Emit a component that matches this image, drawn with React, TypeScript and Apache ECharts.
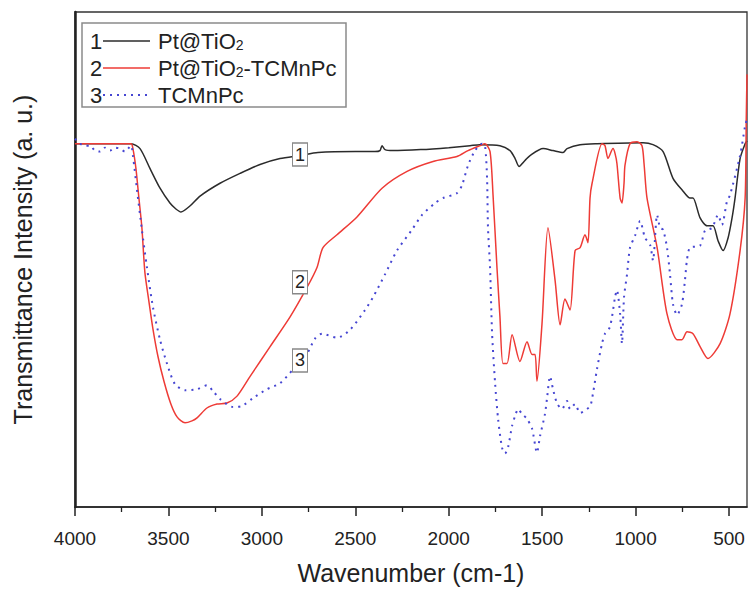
import React, { useEffect, useRef } from "react";
import * as echarts from "echarts";

// ---- data (wavenumber cm-1, transmittance a.u.) ----
const ptTiO2Wn = [4000, 3800, 3700, 3652, 3599, 3545, 3492, 3460, 3433, 3385, 3331, 3224, 3117, 3010, 2903, 2796, 2700, 2500, 2395, 2368, 2357, 2341, 2300, 2150, 2000, 1886, 1833, 1726, 1672, 1645, 1624, 1592, 1565, 1495, 1442, 1388, 1367, 1297, 1207, 960, 907, 853, 800, 746, 709, 693, 655, 618, 586, 559, 532, 505, 484, 468, 441, 414, 404];
const ptTiO2T = [73.4, 73.4, 73.4, 72.4, 68.4, 64.4, 61.4, 60.2, 59.6, 60.8, 62.8, 65.4, 67.4, 69.2, 70.4, 71, 71.6, 71.8, 71.8, 72, 73, 72.2, 72, 72.2, 72.6, 73, 73.2, 73, 72, 70.4, 68.8, 70, 71, 72.4, 72, 71.6, 72.4, 73.2, 73.4, 73.6, 73.2, 71.8, 66.4, 63.8, 62.4, 62.4, 58.4, 56.8, 56.8, 53.8, 51.8, 54.4, 58.4, 62.4, 70.4, 73.4, 74];

const ptTiO2McWn = [4000, 3700, 3690, 3674, 3658, 3642, 3626, 3604, 3583, 3556, 3524, 3487, 3454, 3411, 3374, 3347, 3294, 3240, 3187, 3133, 3063, 2956, 2849, 2758, 2705, 2673, 2598, 2491, 2357, 2223, 2084, 1956, 1897, 1833, 1806, 1779, 1763, 1742, 1726, 1710, 1688, 1661, 1619, 1581, 1554, 1538, 1528, 1501, 1469, 1431, 1404, 1378, 1351, 1324, 1297, 1271, 1255, 1244, 1233, 1180, 1164, 1148, 1121, 1110, 1100, 1083, 1073, 1062, 1057, 1030, 992, 966, 955, 939, 885, 832, 778, 752, 725, 693, 655, 613, 548, 495, 441, 414, 408, 404];
const ptTiO2McT = [73.4, 73.4, 72.4, 68.4, 62.4, 56.4, 47.4, 41.4, 36, 30.4, 25.4, 20.8, 18.2, 17, 17.4, 18, 20, 20.8, 21, 22.4, 26.4, 32.4, 38.4, 44.4, 48.4, 52.4, 55, 58.6, 64.4, 67.8, 69.8, 70.8, 72, 73, 73.4, 71.8, 63, 48.4, 38.4, 29, 29, 34.8, 29.4, 33.4, 30.8, 30.8, 25.4, 37, 56.4, 45.8, 36.8, 42, 39.8, 51.8, 52.4, 55, 53.4, 62.4, 65.4, 73.4, 73, 70.4, 72.4, 71.4, 69.4, 62.4, 61.4, 65.4, 69, 73.4, 73.8, 73, 69.4, 62.4, 52.4, 39, 33.8, 33.8, 35.4, 35, 32.4, 30, 33, 39, 51.8, 62.4, 78.4, 87.4];

const tcmnpcWn = [4000, 3973, 3946, 3920, 3893, 3866, 3840, 3813, 3786, 3759, 3733, 3700, 3690, 3668, 3642, 3615, 3583, 3545, 3508, 3465, 3411, 3347, 3294, 3261, 3224, 3154, 3106, 3047, 2973, 2903, 2833, 2758, 2716, 2678, 2598, 2528, 2448, 2405, 2341, 2277, 2197, 2143, 2073, 2031, 1956, 1929, 1897, 1859, 1822, 1806, 1795, 1790, 1779, 1768, 1752, 1736, 1715, 1699, 1683, 1661, 1645, 1629, 1608, 1581, 1554, 1528, 1511, 1485, 1474, 1458, 1442, 1421, 1394, 1367, 1351, 1324, 1297, 1244, 1228, 1207, 1180, 1164, 1137, 1110, 1100, 1083, 1073, 1062, 1046, 1030, 1003, 976, 950, 923, 907, 885, 869, 853, 832, 816, 800, 778, 752, 736, 725, 709, 655, 629, 591, 559, 538, 511, 495, 441, 414, 404];
const tcmnpcT = [74.4, 73.4, 73, 73, 72, 71.8, 72.6, 72, 72.6, 72.4, 71.8, 73, 71, 64, 56, 48.4, 40.4, 33.8, 29, 24.8, 23.6, 23.8, 24.6, 23.4, 21.8, 20.2, 20.4, 22, 23.8, 25, 27.8, 31, 34, 35, 34.2, 35.8, 39.8, 42.4, 47, 51.8, 56, 59, 61.4, 62.4, 63.4, 65, 69, 72, 73.4, 73, 66.4, 56.4, 48.4, 35, 25, 17.8, 12, 10.8, 12, 16.4, 18.4, 19.8, 18.8, 17.8, 15.8, 11, 14.4, 18.8, 22, 26.4, 23.8, 21, 19.8, 21.4, 19.8, 20.8, 19, 20.4, 23, 27.8, 33, 35, 36.4, 42.4, 43.8, 39, 33, 42.4, 47, 52.4, 54.8, 57.8, 54.4, 53, 49.8, 59, 56.4, 56, 52.4, 47, 41, 38.8, 41, 45.8, 50, 52.4, 52.8, 55.8, 56.4, 59, 57, 61.8, 63, 71, 77, 78.4];

const seriesNames = ["Pt@TiO2", "Pt@TiO2-TCMnPc", "TCMnPc"];
const legendNums = ["1", "2", "3"];
const legendRich = ["{n|Pt@TiO}{s|2}", "{n|Pt@TiO}{s|2}{n|-TCMnPc}", "{n|TCMnPc}"];
const curveTagWn = [2796, 2796, 2796];
const curveTagT = [71.2, 45.4, 29.6];

const majorTicks = [4000, 3500, 3000, 2500, 2000, 1500, 1000, 500];
const minorTicks = [3750, 3250, 2750, 2250, 1750, 1250, 750];

const colors = ["#2b2b2b", "#ee3b36", "#4646d2"];
const FONT = "Liberation Sans, Arial, sans-serif";

const zip = (a: number[], b: number[]) => a.map((x, i) => [x, b[i]]);

export default function App() {
  const ref = useRef<HTMLDivElement>(null);
  useEffect(() => {
    if (!ref.current) return;
    const chart = echarts.init(ref.current, undefined, { renderer: "svg" });
    const datasets = [zip(ptTiO2Wn, ptTiO2T), zip(ptTiO2McWn, ptTiO2McT), zip(tcmnpcWn, tcmnpcT)];

    const legendGraphics: any[] = [
      {
        type: "rect",
        shape: { x: 82, y: 23, width: 264, height: 84 },
        style: { fill: "#fff", stroke: "#8a8a8a", lineWidth: 1.5 },
        z: 100,
      },
    ];
    legendNums.forEach((num, i) => {
      const cy = 41 + i * 27;
      legendGraphics.push({
        type: "text",
        x: 90,
        y: cy,
        z: 101,
        style: { text: num, font: `22px ${FONT}`, fill: "#222", verticalAlign: "middle", align: "left" },
      });
      legendGraphics.push({
        type: "line",
        z: 101,
        shape: { x1: 103, y1: cy, x2: 150, y2: cy },
        style: {
          stroke: colors[i],
          lineWidth: i === 2 ? 2 : 1.5,
          lineDash: i === 2 ? [2, 5] : null,
        },
      });
      legendGraphics.push({
        type: "text",
        x: 158,
        y: cy,
        z: 101,
        style: {
          text: legendRich[i],
          verticalAlign: "middle",
          align: "left",
          rich: {
            n: { fontFamily: FONT, fontSize: 22, lineHeight: 22, fill: "#222", color: "#222" },
            s: { fontFamily: FONT, fontSize: 14, lineHeight: 10, verticalAlign: "bottom", fill: "#222", color: "#222" },
          },
        },
      });
    });

    const option: any = {
      animation: false,
      backgroundColor: "#fff",
      grid: {
        left: 75,
        right: 2,
        top: 12,
        bottom: 78,
        show: true,
        borderColor: "#333",
        borderWidth: 1.3,
        backgroundColor: "transparent",
      },
      xAxis: [
        {
          type: "value",
          inverse: true,
          min: 404,
          max: 4000,
          name: "Wavenumber (cm-1)",
          nameLocation: "middle",
          nameGap: 53,
          nameTextStyle: { fontFamily: FONT, fontSize: 25, color: "#222" },
          axisLine: { show: true, onZero: false, lineStyle: { color: "#222", width: 1.5 } },
          axisTick: { show: true, customValues: majorTicks, length: 9, lineStyle: { color: "#222", width: 1.5 } },
          axisLabel: {
            show: true,
            customValues: majorTicks,
            margin: 22,
            fontFamily: FONT,
            fontSize: 19,
            color: "#222",
            formatter: (v: number) => String(v),
          },
          splitLine: { show: false },
        },
        {
          type: "value",
          inverse: true,
          min: 404,
          max: 4000,
          position: "bottom",
          axisLine: { show: false },
          axisTick: { show: true, customValues: minorTicks, length: 5, lineStyle: { color: "#222", width: 1.3 } },
          axisLabel: { show: false },
          splitLine: { show: false },
        },
      ],
      yAxis: {
        type: "value",
        min: 0,
        max: 100,
        name: "Transmittance Intensity (a. u.)",
        nameLocation: "middle",
        nameGap: 40,
        nameTextStyle: { fontFamily: FONT, fontSize: 25, color: "#222" },
        axisLine: { show: true, lineStyle: { color: "#222", width: 2.5 } },
        axisTick: { show: false },
        axisLabel: { show: false },
        splitLine: { show: false },
      },
      series: datasets.map((d, i) => ({
        name: seriesNames[i],
        type: "line",
        xAxisIndex: 0,
        data: d,
        showSymbol: false,
        symbol: "none",
        smooth: 0.25,
        z: 3 + i,
        lineStyle: {
          color: colors[i],
          width: i === 2 ? 2 : 1.5,
          type: i === 2 ? [2, 5] : "solid",
        },
        markPoint: {
          symbol: "rect",
          symbolSize: [15, 23],
          itemStyle: { color: "#fff", borderColor: "#888", borderWidth: 1.2 },
          label: {
            show: true,
            position: "inside",
            formatter: legendNums[i],
            fontFamily: FONT,
            fontSize: 18,
            color: "#222",
          },
          data: [{ coord: [curveTagWn[i], curveTagT[i]] }],
          z: 20,
        },
      })),
      graphic: legendGraphics,
    };
    chart.setOption(option);
    return () => chart.dispose();
  }, []);
  return <div ref={ref} style={{ position: "fixed", left: 0, top: 0, width: 749, height: 590, background: "#fff" }} />;
}
